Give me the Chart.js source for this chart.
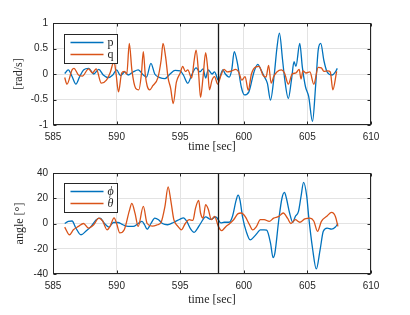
<!DOCTYPE html>
<html><head><meta charset="utf-8">
<script src="https://cdn.jsdelivr.net/npm/chart.js@4/dist/chart.umd.min.js"></script>
<style>
html,body{margin:0;padding:0;background:#fff;width:410px;height:315px;overflow:hidden}
#c1{position:absolute;left:0;top:0;width:410px;height:160px}
#c2{position:absolute;left:0;top:150px;width:410px;height:165px}
</style></head><body>
<canvas id="c1" width="410" height="160"></canvas>
<canvas id="c2" width="410" height="165"></canvas>
<script>
// ---- data ----
const tP=[585.92,586.2,586.5,586.8,587.1,587.4,587.8,588.2,588.6,588.95,589.35,589.7,590.0,590.3,590.65,590.9,591.3,591.7,592.1,592.35,592.7,593.0,593.4,593.8,594.2,594.6,595.0,595.25,595.6,595.9,596.25,596.55,596.8,597.0,597.2,597.5,597.7,598.0,598.35,598.55,598.85,599.05,599.25,599.5,599.8,600.05,600.4,600.8,601.1,601.35,601.6,601.85,602.1,602.4,602.6,602.8,603.05,603.2,603.5,603.75,603.95,604.1,604.4,604.6,604.85,605.1,605.4,605.65,605.85,606.05,606.3,606.55,606.95,607.2,607.35];
const pVals=[0.01,0.08,-0.05,-0.2,-0.05,0.08,0.11,0,0.09,-0.02,-0.07,-0.02,0.08,-0.03,0.04,-0.02,0.04,0.08,-0.02,-0.06,0.21,0.0,-0.07,-0.09,0,0.07,0.06,-0.02,-0.18,-0.02,0.12,0.04,0.1,-0.08,0.08,0,0.04,-0.12,0.08,0.0,-0.06,0.08,0.44,0.21,-0.25,-0.41,-0.35,0.04,0.19,0.08,-0.05,-0.18,-0.51,0,0.5,0.8,0.27,-0.07,-0.48,-0.11,0.24,0.15,0.6,0.14,-0.25,-0.44,-0.93,-0.22,0.47,0.6,0.26,0.04,-0.02,0.04,0.11];
const tQ=[585.92,586.1,586.5,586.65,587.0,587.3,587.8,588.1,588.4,588.8,589.2,589.5,589.8,589.95,590.15,590.4,590.6,590.8,591.0,591.2,591.5,591.75,591.95,592.1,592.25,592.4,592.6,592.85,593.25,593.5,593.65,593.85,594.05,594.25,594.45,594.7,595.0,595.2,595.4,595.6,595.9,596.1,596.25,596.45,596.6,596.8,597.0,597.15,597.3,597.5,597.7,597.95,598.2,598.45,598.7,599.05,599.35,599.6,599.85,600.1,600.35,600.6,600.95,601.2,601.5,601.75,601.95,602.15,602.35,602.6,602.95,603.2,603.5,603.8,604.1,604.35,604.5,604.65,604.9,605.2,605.5,605.85,606.1,606.3,606.6,606.8,607.0,607.3];
const qVals=[-0.07,-0.2,0.08,0.11,-0.02,-0.04,0.1,0.02,0.1,-0.18,-0.12,0.03,0.25,0.02,-0.35,0.02,0.05,0.0,0.6,0.08,-0.28,-0.31,0.0,0.44,0.0,-0.23,-0.31,-0.23,-0.07,0.27,0.6,0.34,-0.08,-0.28,-0.58,-0.16,0.02,0.15,0.05,0.08,-0.08,0.27,0.47,0.0,-0.46,-0.05,0.42,0.14,-0.31,-0.12,-0.05,-0.2,-0.03,0.09,0.04,0.06,0.09,0.04,-0.12,-0.05,-0.32,0.0,0.14,0.15,-0.02,-0.06,0.17,-0.18,-0.05,0.04,0.08,0.02,-0.2,0.0,0.02,0.09,-0.1,0.06,0.02,0.04,-0.2,0.13,0.12,0.05,0.06,0.04,-0.31,0.05];
const tPhi=[585.92,586.2,586.5,586.8,587.2,587.6,588.0,588.4,588.7,589.05,589.4,589.75,590.1,590.5,590.9,591.3,591.7,592.0,592.2,592.4,592.7,593.0,593.3,593.6,594.0,594.5,595.0,595.25,595.5,595.8,596.1,596.35,596.6,597.0,597.4,597.8,598.2,598.45,598.85,599.1,599.4,599.55,599.7,599.9,600.2,600.5,600.85,601.1,601.3,601.6,601.8,602.1,602.3,602.45,602.75,603.0,603.2,603.35,603.6,603.85,604.05,604.3,604.5,604.7,604.95,605.1,605.4,605.7,606.0,606.25,606.55,606.9,607.2,607.4];
const phiVals=[0,1.7,2,-3.6,-8.9,-6,-2.3,3,4.3,0,-2.8,0.8,0.8,-1,-2.3,-2.3,0,1.7,-1,-4.5,0,4.3,3,0,-1,1,3.5,4.5,2,-4,-7,-4,0,5.3,3.2,5.3,0.5,1,1,5.3,18.5,22.4,18.5,5.3,-6.6,-13,-10,-7,-5,-5,-5.3,-15.5,-27,-23,3,20,24.6,20,8.3,1,5.6,9.6,21.5,32.6,21.5,5.6,-19.4,-36,-20.7,-6.2,-3.6,-4.4,-2.8,0];
const tTheta=[585.92,586.3,586.6,587.0,587.4,587.8,588.2,588.6,588.9,589.25,589.5,589.8,590.0,590.25,590.6,591.0,591.2,591.45,591.7,592.1,592.4,592.8,593.2,593.5,593.8,594.05,594.25,594.5,594.8,595.1,595.4,595.7,596.0,596.2,596.45,596.6,596.8,597.0,597.2,597.45,597.7,598.0,598.25,598.6,598.9,599.2,599.55,599.8,600.1,600.45,600.7,601.0,601.3,601.6,602.0,602.35,602.75,603.1,603.45,603.7,604.05,604.4,604.8,605.2,605.5,605.8,606.1,606.55,606.9,607.2,607.4];
const thetaVals=[-2.8,-8.9,-5,-2.3,0,-3.6,-1,4.3,2,-5,-2,4.5,0,-7.5,-5,10,16,8,-2.3,13.5,0,-2,-1,1,13.5,29,19,3,-2,-5,0,3,2.5,12,18.3,8.3,4.3,15,11.5,3,5.6,-2.3,-5.7,-2.3,0,3,7.8,8.3,5.6,-1,-5,-2.3,3,3,1.7,4.3,5.6,8.3,4,0,3,1,3.6,4.3,2,-6.2,1.7,6,8.8,5.6,-2.3];
const xTicks=[585,590,595,600,605,610];
const topTicks=[-1,-0.5,0,0.5,1];
const botTicks=[-40,-20,0,20,40];
const markerTime=598;
const seriesTop=['p','q'];
const seriesBot=['\u03D5','\u03B8'];

const BLUE='#0072BD', ORANGE='#D95319', INK='#262626';
const pts=(t,v)=>t.map((x,i)=>({x:x,y:v[i]}));

const framePlugin={
  id:'frame',
  afterDatasetsDraw(chart,args,opts){
    const ctx=chart.ctx, a=chart.chartArea, xs=chart.scales.x, ys=chart.scales.y;
    ctx.save();
    const mx=Math.round(xs.getPixelForValue(markerTime))+0.5;
    ctx.strokeStyle='#1a1a1a'; ctx.lineWidth=1.3;
    ctx.beginPath(); ctx.moveTo(mx,a.top); ctx.lineTo(mx,a.bottom); ctx.stroke();
    const L=Math.round(a.left)+0.5,R=Math.round(a.right)-0.5,T=Math.round(a.top)+0.5,B=Math.round(a.bottom)-0.5;
    ctx.strokeStyle=INK; ctx.lineWidth=1;
    ctx.strokeRect(L,T,R-L,B-T);
    ctx.beginPath();
    xs.ticks.forEach(t=>{const x=Math.round(xs.getPixelForValue(t.value))+0.5;
      ctx.moveTo(x,B);ctx.lineTo(x,B-3);ctx.moveTo(x,T);ctx.lineTo(x,T+3);});
    ys.ticks.forEach(t=>{const y=Math.round(ys.getPixelForValue(t.value))+0.5;
      ctx.moveTo(L,y);ctx.lineTo(L+3,y);ctx.moveTo(R,y);ctx.lineTo(R-3,y);});
    ctx.stroke();
    const lx=L+11, ly=T+opts.dy, lw=53, lh=29;
    ctx.fillStyle='#fff'; ctx.fillRect(lx,ly,lw,lh);
    ctx.strokeStyle=INK; ctx.lineWidth=1; ctx.strokeRect(lx,ly,lw,lh);
    chart.data.datasets.forEach((d,i)=>{
      const yy=ly+8+i*12;
      ctx.strokeStyle=d.borderColor; ctx.lineWidth=1.3;
      ctx.beginPath(); ctx.moveTo(lx+6,yy); ctx.lineTo(lx+39,yy); ctx.stroke();
      ctx.fillStyle=INK; ctx.font=opts.legendFont; ctx.textBaseline='middle'; ctx.textAlign='left';
      ctx.fillText(d.label,lx+43,yy);
    });
    ctx.restore();
  }
};

function makeChart(id,datasets,ticksY,yTitle,padTop,xAxisH,xTitlePad,yTitlePad,dy,legendFont){
  return new Chart(document.getElementById(id),{
    type:'line',
    data:{datasets:datasets},
    options:{
      responsive:false,animation:false,devicePixelRatio:1,
      layout:{padding:{left:0,right:39,top:padTop,bottom:0}},
      elements:{point:{radius:0},line:{borderWidth:1.3,cubicInterpolationMode:'monotone'}},
      plugins:{legend:{display:false},tooltip:{enabled:false},frame:{dy:dy,legendFont:legendFont}},
      scales:{
        x:{type:'linear',min:xTicks[0],max:xTicks[xTicks.length-1],
          afterBuildTicks(s){s.ticks=xTicks.map(v=>({value:v}));},
          afterFit(s){s.height=xAxisH;},
          grid:{color:'#e3e3e3',drawTicks:false},border:{display:false},
          ticks:{padding:6,color:INK,maxRotation:0,font:{family:'Liberation Sans',size:10},callback:v=>String(v)},
          title:{display:true,text:'time [sec]',color:INK,font:{family:'Liberation Serif',size:12},padding:{top:0,bottom:xTitlePad}}},
        y:{type:'linear',min:ticksY[0],max:ticksY[ticksY.length-1],
          afterBuildTicks(s){s.ticks=ticksY.map(v=>({value:v}));},
          afterFit(s){s.width=53;},
          grid:{color:'#e3e3e3',drawTicks:false},border:{display:false},
          ticks:{padding:5,color:INK,font:{family:'Liberation Sans',size:10},callback:v=>String(v)},
          title:{display:true,text:yTitle,color:INK,font:{family:'Liberation Serif',size:12},padding:{top:yTitlePad,bottom:0}}}
      }
    },
    plugins:[framePlugin]
  });
}

makeChart('c1',[
  {label:seriesTop[0],data:pts(tP,pVals),borderColor:BLUE,order:1},
  {label:seriesTop[1],data:pts(tQ,qVals),borderColor:ORANGE,order:0}
],topTicks,'[rad/s]',23,35,6,12,11,'12px "Liberation Serif"');

makeChart('c2',[
  {label:seriesBot[0],data:pts(tPhi,phiVals),borderColor:BLUE,order:1},
  {label:seriesBot[1],data:pts(tTheta,thetaVals),borderColor:ORANGE,order:0}
],botTicks,'angle [\u00B0]',23,41,8,13,10,'italic 12px "Liberation Serif"');
</script>
</body></html>
